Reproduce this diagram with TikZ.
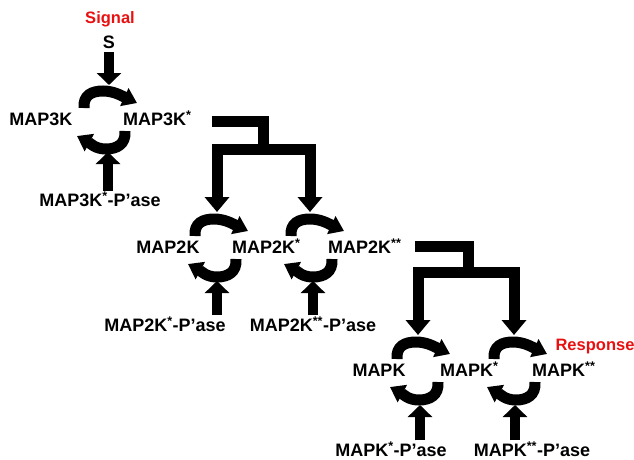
\documentclass[tikz,border=0pt]{standalone}
\usepackage{fontspec}
\setmainfont{Liberation Sans}
\usetikzlibrary{arrows.meta}
\definecolor{sigred}{RGB}{232,16,16}
\tikzset{
  lbl/.style={font=\fontsize{18}{20}\selectfont\bfseries, inner sep=0pt, text height=13pt, text depth=0pt},
  redlbl/.style={font=\fontsize{16.5}{20}\selectfont\bfseries, inner sep=0pt, text height=12pt, text depth=0pt, text=sigred},
  bigarrow/.style={line width=10pt, -{Triangle[width=24pt,length=12pt]}},
  cycarc/.style={line width=11pt, -{Triangle[width=19pt,length=14pt]}},
  branch/.style={line width=11pt, line join=miter},
  branchend/.style={branch, -{Triangle[width=24pt,length=15pt]}},
}
\newcommand\mkcyc[2]{%
  \draw[cycarc] (#1-22,#2-11) .. controls (#1-23,#2-24) and (#1-14,#2-28) .. (#1-3,#2-28)
     .. controls (#1+8,#2-28) and (#1+16,#2-23) .. (#1+31,#2-16);
  \draw[cycarc] (#1+19,#2+12) .. controls (#1+20,#2+25) and (#1+11,#2+30) .. (#1,#2+30)
     .. controls (#1-11,#2+30) and (#1-16,#2+24) .. (#1-29,#2+17);
}
\begin{document}
\begin{tikzpicture}[x=1pt, y=-1pt]
\useasboundingbox (0,0) rectangle (634,459);
% texts
\node[redlbl] (sig) at (110,17.5) {Signal};
\node[lbl] (s) at (109,41.5) {S};
\node[lbl] (k3) at (41,119) {MAP3K};
\node[lbl, anchor=west] (k3s) at (123,119) {MAP3K\textsuperscript{*}};
\node[lbl] (p3) at (100,200) {MAP3K\textsuperscript{*}-P’ase};
\node[lbl] (k2) at (168,247) {MAP2K};
\node[lbl, anchor=west] (k2s) at (232,247) {MAP2K\textsuperscript{*}};
\node[lbl, anchor=west] (k2ss) at (328,247) {MAP2K\textsuperscript{**}};
\node[lbl] (p2s) at (165,325) {MAP2K\textsuperscript{*}-P’ase};
\node[lbl] (p2ss) at (313,325) {MAP2K\textsuperscript{**}-P’ase};
\node[redlbl] (resp) at (595,344) {Response};
\node[lbl] (k1) at (379,370) {MAPK};
\node[lbl, anchor=west] (k1s) at (440,370) {MAPK\textsuperscript{*}};
\node[lbl, anchor=west] (k1ss) at (532,370) {MAPK\textsuperscript{**}};
\node[lbl] (p1s) at (391,450) {MAPK\textsuperscript{*}-P’ase};
\node[lbl] (p1ss) at (532,450) {MAPK\textsuperscript{**}-P’ase};
% cycles
\mkcyc{106}{119}
\mkcyc{217}{247}
\mkcyc{313}{247}
\mkcyc{419}{370}
\mkcyc{516}{370}
% coordinates
\coordinate (c1top) at (109,85);
\coordinate (c1bot) at (108,152);
\coordinate (c2top) at (217,212);
\coordinate (c3top) at (310,212);
\coordinate (c2bot) at (217,281);
\coordinate (c3bot) at (313,281);
\coordinate (c4top) at (418,335);
\coordinate (c5top) at (514,335);
\coordinate (c4bot) at (420,405);
\coordinate (c5bot) at (515,405);
\coordinate (b1s) at (212,121);
\coordinate (b1m) at (263,121);
\coordinate (b1j) at (263,149);
\coordinate (b2s) at (415,246);
\coordinate (b2m) at (468,246);
\coordinate (b2j) at (468,272);
% straight arrows
\draw[bigarrow] (s.south) ++(0,4) -- (c1top);
\draw[bigarrow] (p3.north -| c1bot) ++(0,-2) -- (c1bot);
\draw[bigarrow] (p2s.north -| c2bot) ++(0,-3) -- (c2bot);
\draw[bigarrow] (p2ss.north -| c3bot) ++(0,-3) -- (c3bot);
\draw[bigarrow] (p1s.north -| c4bot) ++(0,-3) -- (c4bot);
\draw[bigarrow] (p1ss.north -| c5bot) ++(0,-3) -- (c5bot);
% branches
\draw[branch] (b1s) -- (b1m) -- ([yshift=1pt]b1j);
\draw[branchend] (b1j) -| (c2top);
\draw[branchend] (b1j) -| (c3top);
\draw[branch] (b2s) -- (b2m) -- ([yshift=1pt]b2j);
\draw[branchend] (b2j) -| (c4top);
\draw[branchend] (b2j) -| (c5top);
\end{tikzpicture}
\end{document}
